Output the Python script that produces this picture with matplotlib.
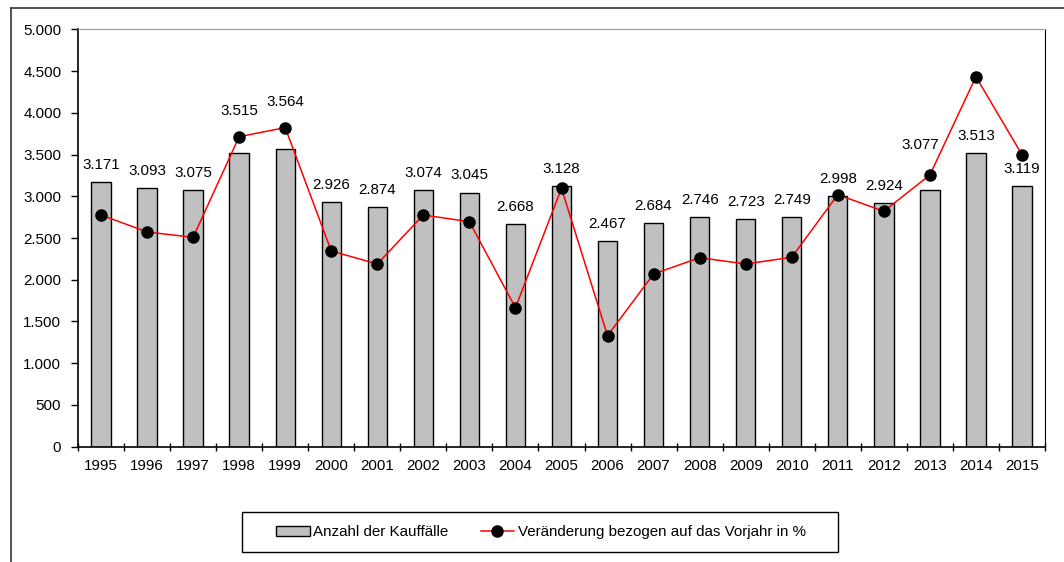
import matplotlib
matplotlib.use("Agg")
import matplotlib.pyplot as plt
from matplotlib.lines import Line2D
from matplotlib.patches import Rectangle
from matplotlib.ticker import FixedLocator, FuncFormatter

years = [str(y) for y in range(1995, 2016)]
kauffaelle = [3171, 3093, 3075, 3515, 3564, 2926, 2874, 3074, 3045, 2668, 3128,
              2467, 2684, 2746, 2723, 2749, 2998, 2924, 3077, 3513, 3119]
veraenderung = [2776, 2572, 2508, 3714, 3822, 2344, 2189, 2776, 2695, 1665, 3095,
                1330, 2069, 2264, 2189, 2269, 3019, 2820, 3255, 4432, 3498]
# manually moved data labels (year index -> (dx, y))
label_moves = {3: (0, 3937), 4: (0, 4045), 18: (-0.2, 3529)}

plt.rcParams['font.family'] = ['Liberation Sans', 'DejaVu Sans']
FS = 10.9
plt.rcParams['font.size'] = FS

fig = plt.figure(figsize=(10.64, 5.62), dpi=100)
ax = fig.add_axes([78/1064, 1-446.7/562, (1045-78)/1064, (446.7-29.3)/562])

x = list(range(len(years)))
ax.bar(x, kauffaelle, width=0.42, color='#C0C0C0', edgecolor='black',
       linewidth=1.0, label='Anzahl der Kauffälle', zorder=2)
ax.plot(x, veraenderung, color='red', linewidth=1.1, marker='o', markersize=8,
        markerfacecolor='black', markeredgecolor='black',
        label='Veränderung bezogen auf das Vorjahr in %', zorder=3)

def de(v):
    return f"{int(v):,}".replace(",", ".")

for i, v in enumerate(kauffaelle):
    dx, y = label_moves.get(i, (0, v + 120))
    ax.text(i + dx, y, de(v), ha='center', va='bottom', fontsize=FS, zorder=4)

ax.set_xlim(-0.5, len(years) - 0.5)
ax.set_ylim(0, 5000)
ax.yaxis.set_major_locator(FixedLocator(range(0, 5001, 500)))
ax.yaxis.set_major_formatter(FuncFormatter(lambda v, p: de(v)))
ax.set_xticks(x)
ax.set_xticklabels(years)
ax.set_xticks([i - 0.5 for i in range(len(years) + 1)], minor=True)
ax.tick_params(axis='x', which='major', length=0, pad=9, labelsize=FS)
ax.tick_params(axis='x', which='minor', length=6, width=1, direction='inout')
ax.tick_params(axis='y', which='major', length=5, width=1, direction='out', pad=7, labelsize=FS)

ax.spines['left'].set_color('black')
ax.spines['bottom'].set_color('black')
ax.spines['bottom'].set_linewidth(1.2)
ax.spines['left'].set_linewidth(1.2)
ax.spines['top'].set_color('#999999')
ax.spines['right'].set_color('black')

handles, labels = ax.get_legend_handles_labels()
order = [labels.index('Anzahl der Kauffälle'),
         labels.index('Veränderung bezogen auf das Vorjahr in %')]
leg = ax.legend([handles[i] for i in order], [labels[i] for i in order],
                loc='center', bbox_to_anchor=(541/1064, 1-532/562),
                bbox_transform=fig.transFigure, ncol=2, frameon=False,
                fontsize=FS, handlelength=2.2, handleheight=0.65,
                columnspacing=2.1, handletextpad=0.25)
fig.add_artist(Rectangle((242/1064, 1-552/562), 596/1064, 40/562,
                         transform=fig.transFigure, fill=False,
                         edgecolor='black', lw=1.0))

# outer chart frame
fig.add_artist(Line2D([11/1064, 1.0], [1-8/562, 1-8/562], color='#333333', lw=1.2,
                      transform=fig.transFigure))
fig.add_artist(Line2D([11/1064, 11/1064], [0, 1-8/562], color='#333333', lw=1.2,
                      transform=fig.transFigure))

fig.savefig('out.png', dpi=100)
